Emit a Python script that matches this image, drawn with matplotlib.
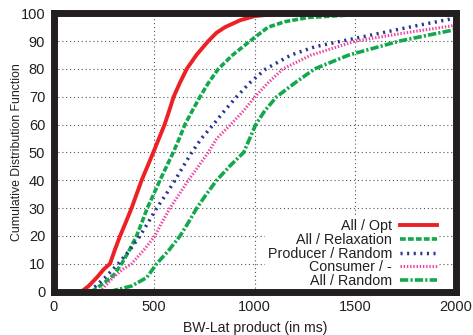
import matplotlib
matplotlib.use("Agg")
import matplotlib.pyplot as plt

plt.rcParams["font.family"] = ["Liberation Sans", "DejaVu Sans"]

# --- Data (x in ms, y in %) ---
opt_x = [140, 175, 215, 250, 281, 305, 331, 360, 388, 413, 438, 467, 496, 524, 552,
         575, 597, 628, 662, 710, 769, 810, 852, 927, 1000, 1100, 1300, 2000]
opt_y = [0, 2, 5, 8, 10, 15, 20, 25, 30, 35, 40, 45, 50, 55, 60,
         65, 70, 75, 80, 85, 90, 93, 95, 97.5, 99, 99.7, 100, 100]

relax_x = [190, 250, 300, 339, 378, 413, 440, 466, 498, 529, 562, 595, 625, 653, 690,
           728, 770, 819, 890, 976, 1066, 1150, 1266, 1500, 2000]
relax_y = [0, 3, 6, 10, 15, 20, 25, 30, 35, 40, 45, 50, 55, 60, 65,
           70, 75, 80, 85, 90, 95, 97, 98.5, 99.5, 100]

prod_x = [180, 225, 256, 322, 380, 430, 472, 513, 560, 604, 645, 687, 735, 794, 850,
          910, 975, 1055, 1180, 1300, 1432, 1633, 1800, 2000]
prod_y = [0, 3, 5, 10, 15, 20, 25, 30, 35, 40, 45, 50, 55, 60, 65,
          70, 75, 80, 85, 88, 90, 93, 95.5, 98.3]

cons_x = [230, 296, 345, 388, 450, 504, 540, 579, 625, 670, 720, 769, 811, 880, 945,
          1001, 1066, 1140, 1280, 1500, 1750, 2000]
cons_y = [0, 5, 8, 10, 15, 20, 25, 30, 35, 40, 45, 50, 55, 60, 65,
          70, 75, 80, 85, 90, 93, 95.7]

rand_x = [281, 389, 463, 513, 575, 629, 672, 712, 760, 811, 875, 945, 975, 1005, 1050,
          1109, 1200, 1297, 1467, 1718, 2000]
rand_y = [0, 2, 5, 10, 15, 20, 25, 30, 35, 40, 45, 50, 55, 60, 65,
          70, 75, 80, 85, 90, 94.2]

x_ticks = [0, 500, 1000, 1500, 2000]
y_ticks = [0, 10, 20, 30, 40, 50, 60, 70, 80, 90, 100]

# --- Figure ---
fig = plt.figure(figsize=(4.73, 3.35), dpi=100)
ax = fig.add_axes([53.5 / 473, 1 - 291.5 / 335, (456 - 53.5) / 473, (291.5 - 13.3) / 335])

ax.plot(opt_x, opt_y, color="#ed2024", lw=2.8, label="All / Opt")
ax.plot(relax_x, relax_y, color="#12a84c", lw=2.6, ls=(0, (1.6, 0.6)), label="All / Relaxation")
ax.plot(prod_x, prod_y, color="#2b3590", lw=2.5, ls=(0, (0.6, 1.3)), label="Producer / Random")
ax.plot(cons_x, cons_y, color="#ec3e9e", lw=2.2, ls=(0, (0.45, 0.6)), label="Consumer / -")
ax.plot(rand_x, rand_y, color="#12a84c", lw=2.6, ls=(0, (2.3, 0.6, 0.6, 0.6)), label="All / Random")

ax.set_xlim(0, 2000)
ax.set_ylim(0, 100)
ax.set_xticks(x_ticks)
ax.set_yticks(y_ticks)
ax.tick_params(length=0, pad=6, labelsize=10.5, colors="#231f20")
ax.grid(True, color="#555555", lw=0.8, ls=(0, (1, 2.5)))
ax.set_axisbelow(True)

for s in ax.spines.values():
    s.set_linewidth(5)
    s.set_color("#231f20")
    s.set_zorder(3)

ax.set_xlabel("BW-Lat product (in ms)", fontsize=10.1, color="#231f20", labelpad=5.5)
ax.set_ylabel("Cumulative Distribution Function", fontsize=8.8, color="#231f20")
ax.yaxis.set_label_coords(-0.076, 0.5)

leg = ax.legend(loc="lower right", bbox_to_anchor=(0.958, 0.006), borderaxespad=0,
                markerfirst=False, fontsize=10.3, handlelength=2.6,
                frameon=True, fancybox=False, framealpha=1, facecolor="white",
                edgecolor="none", labelspacing=-0.03,
                handletextpad=0.55, borderpad=0.15)
leg.set_zorder(2.5)
for t in leg.get_texts():
    t.set_ha("right")
    t.set_color("#231f20")

fig.savefig("out.png", dpi=100)
